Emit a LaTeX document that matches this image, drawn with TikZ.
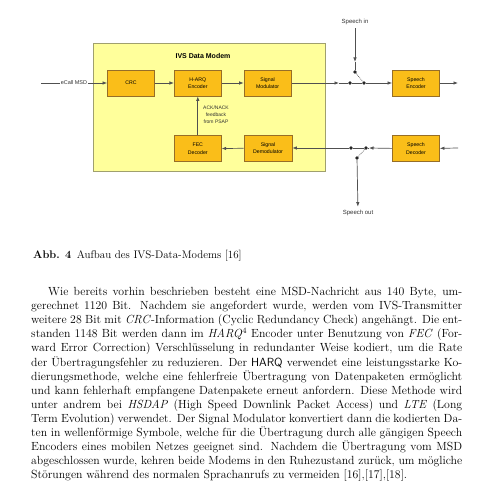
\documentclass[tikz,border=0pt]{standalone}
\usepackage{fontspec}
\newfontfamily\diagfont{Liberation Sans}
\usepackage{xcolor}
\usepackage{tikz}
\usetikzlibrary{arrows.meta,positioning,calc}

\definecolor{modemfill}{RGB}{255,255,155}
\definecolor{modemline}{RGB}{160,160,110}
\definecolor{blockfill}{RGB}{250,190,25}
\definecolor{blockline}{RGB}{150,110,40}
\definecolor{wiregray}{RGB}{80,80,80}

\begin{document}
\begin{tikzpicture}[
  x=1pt, y=-1pt,
  node distance=19pt,
  block/.style={rectangle, draw=blockline, fill=blockfill, line width=0.8pt, align=center, minimum width=47pt, minimum height=26pt, inner sep=0pt, font=\diagfont\fontsize{5.2}{7.5}\selectfont},
  arrow/.style={-{Latex[length=4.5pt,width=3.5pt]}, line width=0.7pt, draw=wiregray},
  wire/.style={line width=0.7pt, draw=wiregray},
  dot/.style={circle, fill=black!85, inner sep=0pt, minimum size=3.6pt},
  lab/.style={font=\diagfont\fontsize{5.5}{7}\selectfont, text=black!80}
]
\useasboundingbox[fill=white] (0,0) rectangle (486,500);

% modem frame
\node[draw=modemline, fill=modemfill, line width=0.8pt, minimum width=232pt, minimum height=128pt, inner sep=0pt] (modem) at (209,107) {};
\node[font=\diagfont\bfseries\fontsize{7}{8}\selectfont] (title) at (203,56) {IVS Data Modem};

\node[block] (crc) at (131,83) {CRC};
\node[block, right=of crc] (harq) {H-ARQ\\Encoder};
\node[block, right=22pt of harq] (mod) {Signal\\Modulator};
\node[block, below=39pt of harq] (fec) {FEC\\Decoder};
\node[block, minimum width=48pt] (demod) at (268,148) {Signal\\Demodulator};

\node[block] (senc) at (416,83) {Speech\\Encoder};
\node[block, below=39pt of senc] (sdec) {Speech\\Decoder};

% input
\coordinate (msdin) at (41,83);
\draw[arrow] (msdin) -- (crc);
\node[lab, fill=white, inner sep=1pt] (msd) at (74,83) {eCall MSD};

\draw[arrow] (crc) -- (harq);
\draw[arrow] (harq) -- (mod);
\draw[arrow] (demod) -- (fec);
\draw[arrow] (fec) -- (harq);
\node[lab, align=center, font=\diagfont\fontsize{5}{7}\selectfont] (ack) at (216,115) {ACK/NACK\\feedback\\from PSAP};

% upper switch
\node[dot] (s1) at (350,83) {};
\node[dot] (s2) at (364,83) {};
\node[dot] (sp1) at (355,72) {};
\coordinate (tipa) at (339,83);
\coordinate (tipb) at (355,62);
\node[lab, font=\diagfont\fontsize{6}{7}\selectfont] (spin) at (355,22) {Speech in};
\draw[arrow] (mod) -- (tipa);
\draw[wire] (tipa) -- (s1) -- (s2);
\draw[arrow] (s2) -- (senc);
\draw[arrow] (spin) -- (tipb);
\draw[wire] (tipb) -- (sp1);
\draw[wire, densely dotted] (sp1) -- (s2);
\coordinate (encout) at (458,83);
\draw[arrow] (senc) -- (encout);

% lower switch
\node[dot] (s3) at (351,148) {};
\node[dot] (s4) at (366,148) {};
\node[dot] (sp2) at (357,158) {};
\coordinate (tipc) at (369,148);
\coordinate (decin) at (458,148);
\node[lab, font=\diagfont\fontsize{6}{7}\selectfont] (spout) at (358,213) {Speech out};
\draw[arrow] (decin) -- (sdec);
\draw[arrow] (sdec) -- (tipc);
\draw[wire] (tipc) -- (s4) -- (s3);
\draw[arrow] (s3) -- (demod);
\draw[wire, densely dotted] (s4) -- (sp2);
\draw[arrow] (sp2) -- (spout);

% caption and text
\node[anchor=base west, inner sep=0pt, font=\fontsize{11}{13}\selectfont] (caption) at (33,258) {\textbf{Abb. 4}\enspace Aufbau des IVS-Data-Modems [16]};

\node[anchor=north west, inner sep=0pt, text width=431pt, align=justify, font=\fontsize{11.8}{14.1}\selectfont] (body) at (31,287) {%
\hspace*{17pt}Wie bereits vorhin beschrieben besteht eine MSD-Nachricht aus 140 Byte, um-\linebreak
gerechnet 1120 Bit. Nachdem sie angefordert wurde, werden vom IVS-Transmitter\linebreak
weitere 28 Bit mit \emph{CRC}-Information (Cyclic Redundancy Check) angehängt. Die ent-\linebreak
standen 1148 Bit werden dann im \emph{HARQ}$^4$ Encoder unter Benutzung von \emph{FEC} (For-\linebreak
ward Error Correction) Verschlüsselung in redundanter Weise kodiert, um die Rate\linebreak
der Übertragungsfehler zu reduzieren. Der \textsf{HARQ} verwendet eine leistungsstarke Ko-\linebreak
dierungsmethode, welche eine fehlerfreie Übertragung von Datenpaketen ermöglicht\linebreak
und kann fehlerhaft empfangene Datenpakete erneut anfordern. Diese Methode wird\linebreak
unter andrem bei \emph{HSDAP} (High Speed Downlink Packet Access) und \emph{LTE} (Long\linebreak
Term Evolution) verwendet. Der Signal Modulator konvertiert dann die kodierten Da-\linebreak
ten in wellenförmige Symbole, welche für die Übertragung durch alle gängigen Speech\linebreak
Encoders eines mobilen Netzes geeignet sind. Nachdem die Übertragung vom MSD\linebreak
abgeschlossen wurde, kehren beide Modems in den Ruhezustand zurück, um mögliche\linebreak
Störungen während des normalen Sprachanrufs zu vermeiden [16],[17],[18].};

\end{tikzpicture}
\end{document}
